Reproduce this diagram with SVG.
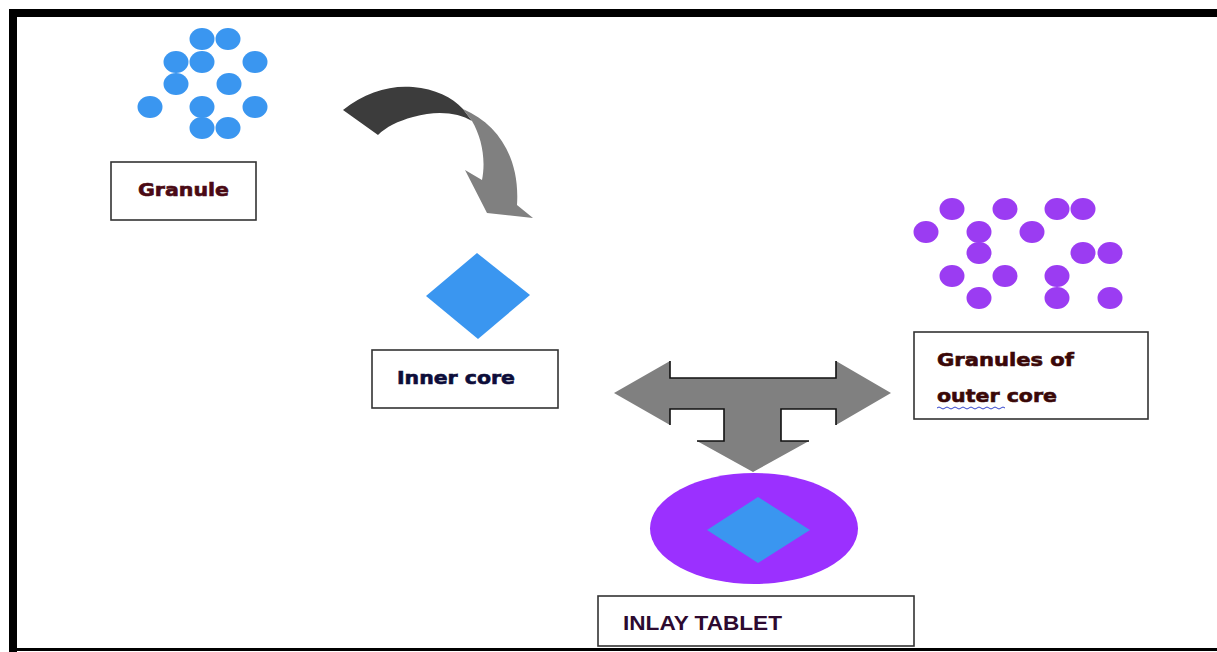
<svg xmlns="http://www.w3.org/2000/svg" width="1217" height="652" viewBox="0 0 1217 652">
<style>
.box{fill:#fff;stroke:#333;stroke-width:1.6}
.lbl{font-family:"DejaVu Sans","Liberation Sans",sans-serif;font-weight:bold;font-size:18px;stroke-width:0.6}
.bd{fill:#3a96f0}
.pd{fill:#9b3cf2}
.edge{fill:none;stroke:#111;stroke-width:1.6}
</style>
<defs>
<ellipse id="dot" cx="0" cy="0" rx="12.5" ry="11"/>
</defs>
<rect x="0" y="0" width="1217" height="652" fill="#fff"/>
<g id="frame">
<rect x="9" y="9" width="1208" height="8" fill="#000"/>
<rect x="9" y="9" width="8" height="643" fill="#000"/>
<rect x="9" y="648" width="1208" height="3" fill="#000"/>
</g>
<g id="granule">
<g class="bd">
<use href="#dot" x="202" y="39"/><use href="#dot" x="228" y="39"/>
<use href="#dot" x="176" y="62"/><use href="#dot" x="202" y="62"/><use href="#dot" x="255" y="62"/>
<use href="#dot" x="176" y="84"/><use href="#dot" x="229" y="84"/>
<use href="#dot" x="150" y="107"/><use href="#dot" x="202" y="107"/><use href="#dot" x="255" y="107"/>
<use href="#dot" x="202" y="128"/><use href="#dot" x="228" y="128"/>
</g>
<rect class="box" x="111" y="162" width="145" height="58"/>
<text class="lbl" x="138" y="196" fill="#4a0a14" stroke="#4a0a14" textLength="91" lengthAdjust="spacingAndGlyphs">Granule</text>
</g>
<g id="inner-core">
<polygon points="477,253 530,295 478,339 426,296" fill="#3a96f0"/>
<rect class="box" x="372" y="350" width="186" height="58"/>
<text class="lbl" x="397" y="384" fill="#0d0d3a" stroke="#0d0d3a" textLength="118" lengthAdjust="spacingAndGlyphs">Inner core</text>
</g>
<g id="outer-granules">
<g class="pd">
<use href="#dot" x="952" y="209"/><use href="#dot" x="1005" y="209"/><use href="#dot" x="1057" y="209"/><use href="#dot" x="1083" y="209"/>
<use href="#dot" x="926" y="232"/><use href="#dot" x="979" y="232"/><use href="#dot" x="1032" y="232"/>
<use href="#dot" x="979" y="253"/><use href="#dot" x="1083" y="253"/><use href="#dot" x="1110" y="253"/>
<use href="#dot" x="952" y="276"/><use href="#dot" x="1005" y="276"/><use href="#dot" x="1057" y="276"/>
<use href="#dot" x="979" y="298"/><use href="#dot" x="1057" y="298"/><use href="#dot" x="1110" y="298"/>
</g>
<rect class="box" x="914" y="332" width="234" height="87"/>
<text class="lbl" x="937" y="366" fill="#3a0808" stroke="#3a0808" textLength="137" lengthAdjust="spacingAndGlyphs">Granules of</text>
<text class="lbl" x="937" y="402" fill="#3a0808" stroke="#3a0808" textLength="120" lengthAdjust="spacingAndGlyphs">outer core</text>
<path d="M937,408 q2,-2 4,0 t4,0 t4,0 t4,0 t4,0 t4,0 t4,0 t4,0 t4,0 t4,0 t4,0 t4,0 t4,0 t4,0 t4,0 t4,0 t4,0" fill="none" stroke="#3344cc" stroke-width="1"/>
</g>
<g id="inlay-tablet">
<ellipse cx="754" cy="528.5" rx="104" ry="55.5" fill="#9b30ff"/>
<polygon points="758,497 810,530 758,563 707,530" fill="#3a96f0"/>
<rect class="box" x="598" y="596" width="316" height="50"/>
<text x="623" y="630" fill="#2d0a30" font-family="'Liberation Sans',Arial,sans-serif" font-weight="bold" font-size="20" textLength="159" lengthAdjust="spacingAndGlyphs">INLAY TABLET</text>
</g>
<g id="connectors">
<path d="M343,110 C365,92 390,85 413,87 C435,89 452,97 463,109 L472,121 C458,113 438,110 413,117 C398,121 386,127 378,135 Z" fill="#3c3c3c"/>
<path d="M463,109 C500,125 520,160 517,205 L533,218 L487,213 L465,170 L482,180 C486,160 482,138 472,121 Z" fill="#808080"/>
<polygon points="614,393 670,361 670,378 836,378 836,361 891,393 836,425 836,409 781,409 781,441 809,441 753,472 697,441 724,441 724,409 670,409 670,425" fill="#808080"/>
<polyline class="edge" points="670,361 670,378 836,378 836,361"/>
<polyline class="edge" points="670,425 670,409 724,409 724,441 697,441"/>
<polyline class="edge" points="836,425 836,409 781,409 781,441 809,441"/>
</g>
</svg>
